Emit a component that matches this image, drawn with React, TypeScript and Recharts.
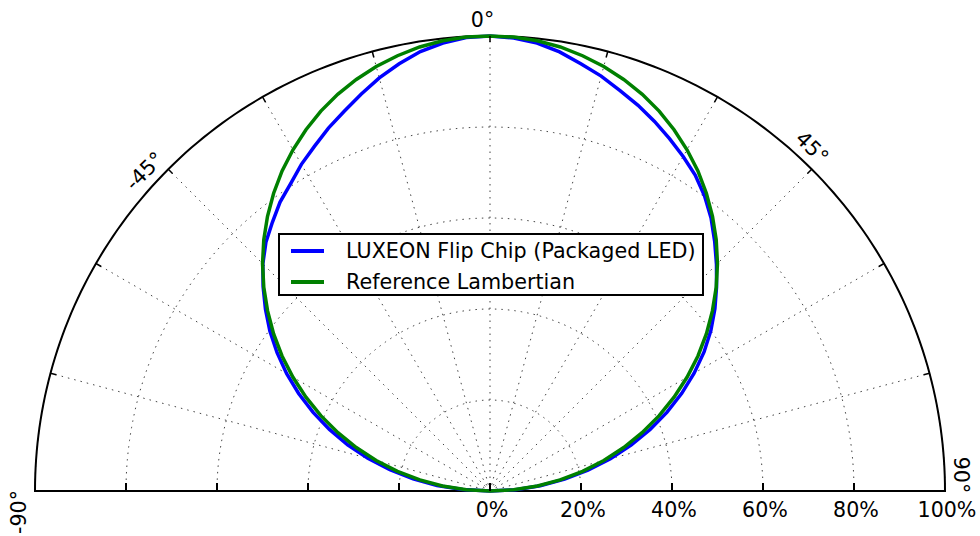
import { RadarChart, Radar, PolarGrid, PolarAngleAxis, PolarRadiusAxis, Legend } from 'recharts';

// emission angle in degrees, 0 = straight up
const ANGLES = [
  -90, -87, -84, -81, -78, -75, -72, -69, -66, -63, -60, -57, -54, -51, -48, -45, -42, -39, -36, -33, -30,
  -27, -24, -21, -18, -15, -12, -9, -6, -3, 0, 3, 6, 9, 12, 15, 18, 21, 24, 27, 30, 33, 36, 39, 42, 45,
  48, 51, 54, 57, 60, 63, 66, 69, 72, 75, 78, 81, 84, 87, 90,
];

// relative intensity, %
const LUXEON = [
  0, 6.0, 11.7, 17.1, 22.5, 27.8, 32.9, 37.8, 42.6, 47.2, 51.6, 55.8, 59.8, 63.5, 67.1, 70.6, 73.6, 76.0, 78.5, 80.5, 82.9,
  85.0, 87.3, 89.4, 91.7, 94.0, 96.0, 97.8, 99.0, 99.8, 100, 99.7, 99.0, 97.7, 96.0, 94.4, 92.5, 90.8, 88.9, 86.9, 84.9,
  82.8, 80.2, 77.2, 73.8, 70.4, 67.0, 63.6, 60.0, 56.1, 51.8, 47.3, 42.6, 37.7, 32.6, 27.4, 22.0, 16.6, 11.1, 5.6, 0,
];

const LAMBERTIAN = [
  0, 5.2, 10.5, 15.6, 20.8, 25.9, 30.9, 35.8, 40.7, 45.4, 50.0, 54.5, 58.8, 62.9, 66.9, 70.7, 74.3, 77.7, 80.9, 83.9, 86.6,
  89.1, 91.4, 93.4, 95.1, 96.6, 97.8, 98.8, 99.5, 99.9, 100, 99.9, 99.5, 98.8, 97.8, 96.6, 95.1, 93.4, 91.4, 89.1, 86.6,
  83.9, 80.9, 77.7, 74.3, 70.7, 66.9, 62.9, 58.8, 54.5, 50.0, 45.4, 40.7, 35.8, 30.9, 25.9, 20.8, 15.6, 10.5, 5.2, 0,
];

const ANGLE_TICKS = [-90, -75, -60, -45, -30, -15, 0, 15, 30, 45, 60, 75, 90];
const ANGLE_LABELS = [-90, -45, 0, 45, 90];
const RADIUS_TICKS = [0, 20, 40, 60, 80, 100];

const data = ANGLES.map((angle, i) => ({ angle, luxeon: LUXEON[i], lambert: LAMBERTIAN[i] }));

const CX = 490;
const CY = 491;
const R = 455;
const FONT = 'DejaVu Sans';
const FS = 20.6;

// recharts measures angles counter-clockwise from 3 o'clock
const ARC = Array.from({ length: 181 }, (_, i) => i);
const SPOKES = ANGLE_TICKS.filter(a => Math.abs(a) < 90).map(a => 90 - a);

// how far each angle label slides along the rim (matplotlib quirk)
const LABEL_SHIFT: Record<number, number> = { '-90': 21, '-45': 18, 0: 7.5, 45: 15, 90: 16 };

function AngleTick(props: any) {
  const { x, y, payload } = props;
  const deg = payload.value;
  const dx = x - CX;
  const dy = y - CY;
  const len = Math.sqrt(dx * dx + dy * dy) || 1;
  const ux = dx / len;
  const uy = dy / len;
  // direction of increasing recharts angle
  const tx = uy;
  const ty = -ux;
  const bx = CX + R * ux;
  const by = CY + R * uy;
  let label = null;
  if (ANGLE_LABELS.includes(deg)) {
    const s = LABEL_SHIFT[deg] ?? 0;
    const lx = bx + 16 * ux + s * tx;
    const ly = by + 16 * uy + s * ty;
    label = (
      <text
        x={lx}
        y={ly}
        dy="0.36em"
        textAnchor="middle"
        transform={`rotate(${deg}, ${lx}, ${ly})`}
        fontSize={FS}
        fontFamily={FONT}
        fill="#000"
      >
        {`${deg}°`}
      </text>
    );
  }
  return (
    <g>
      {Math.abs(deg) < 90 && (
        <line x1={bx} y1={by} x2={bx - 6 * ux} y2={by - 6 * uy} stroke="#000" strokeWidth={1.5} />
      )}
      {label}
    </g>
  );
}

function RadiusTick(props: any) {
  const { x, y, payload } = props;
  const v = payload.value;
  const mirror = 2 * CX - x;
  return (
    <g>
      {v < 100 && <line x1={x} y1={y} x2={x} y2={y - 8} stroke="#000" strokeWidth={2} />}
      {v > 0 && v < 100 && <line x1={mirror} y1={y} x2={mirror} y2={y - 8} stroke="#000" strokeWidth={2} />}
      <text x={x + 2} y={y + 26} textAnchor="middle" fontSize={FS} fontFamily={FONT} fill="#000">
        {`${v}%`}
      </text>
    </g>
  );
}

function LegendBox({ payload }: any) {
  return (
    <div
      style={{
        width: 426,
        height: 63,
        boxSizing: 'border-box',
        border: '2px solid #000',
        background: '#fff',
        paddingTop: 1,
        fontFamily: FONT,
        fontSize: 20.7,
        color: '#000',
      }}
    >
      {(payload || []).map((p: any) => (
        <div key={p.value} style={{ display: 'flex', alignItems: 'center', height: 30.5 }}>
          <span style={{ width: 33, height: 4, background: p.color, marginLeft: 11, flexShrink: 0 }} />
          <span style={{ marginLeft: 22, whiteSpace: 'nowrap' }}>{p.value}</span>
        </div>
      ))}
    </div>
  );
}

export default function App() {
  return (
    <div style={{ position: 'absolute', left: 0, top: 0, width: 980, height: 536, background: '#fff' }}>
      <RadarChart
        width={980}
        height={536}
        data={data}
        cx={CX}
        cy={CY}
        outerRadius={R}
        startAngle={180}
        endAngle={0}
        margin={{ top: 0, right: 0, bottom: 0, left: 0 }}
      >
        <PolarGrid gridType="polygon" polarAngles={ARC} radialLines={false} stroke="#444" strokeDasharray="1.5 5" />
        <PolarGrid gridType="polygon" polarAngles={SPOKES} polarRadius={[0]} stroke="#444" strokeDasharray="1.5 5" />
        <PolarGrid gridType="polygon" polarAngles={ARC} polarRadius={[R]} radialLines={false} stroke="#000" strokeWidth={2} />
        <PolarAngleAxis
          dataKey="angle"
          type="number"
          domain={[-90, 90]}
          ticks={ANGLE_TICKS}
          axisLine={false}
          tickLine={false}
          tick={AngleTick}
        />
        <PolarRadiusAxis
          type="number"
          angle={0}
          domain={[0, 100]}
          ticks={RADIUS_TICKS}
          axisLine={false}
          tick={RadiusTick}
        />
        <Radar
          name="LUXEON Flip Chip (Packaged LED)"
          dataKey="luxeon"
          stroke="#0000ff"
          strokeWidth={3.5}
          fill="none"
          fillOpacity={0}
          dot={false}
          isAnimationActive={false}
        />
        <Radar
          name="Reference Lambertian"
          dataKey="lambert"
          stroke="#008000"
          strokeWidth={3.5}
          fill="none"
          fillOpacity={0}
          dot={false}
          isAnimationActive={false}
        />
        <Legend
          layout="horizontal"
          verticalAlign="middle"
          align="center"
          wrapperStyle={{ left: 278, top: 233, width: 426 }}
          content={LegendBox}
        />
      </RadarChart>
    </div>
  );
}
